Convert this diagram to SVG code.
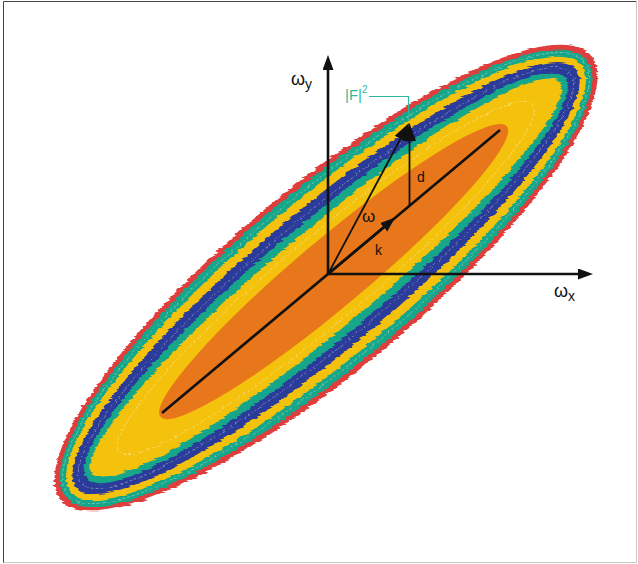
<svg xmlns="http://www.w3.org/2000/svg" width="638" height="564" viewBox="0 0 638 564">
<style>
.ax{stroke:#111;stroke-width:2.6;fill:none}
.thin{stroke:#111;stroke-width:1.8;fill:none}
.lbl{font-family:"Liberation Sans",Arial,sans-serif;fill:#111}
.cl{fill:none;stroke:#fff;stroke-opacity:.5;stroke-width:.7;stroke-dasharray:3 2}
</style>
<defs>
<marker id="ah" markerUnits="userSpaceOnUse" markerWidth="16" markerHeight="12" refX="6" refY="5.5" orient="auto">
<path d="M0,0 L15,5.5 L0,11 z" fill="#111"/>
</marker>
<marker id="ahb" markerUnits="userSpaceOnUse" markerWidth="20" markerHeight="14" refX="8" refY="6.5" orient="auto">
<path d="M0,0 L18,6.5 L0,13 z" fill="#111"/>
</marker>
<filter id="fz" x="-5%" y="-5%" width="110%" height="110%">
<feTurbulence type="fractalNoise" baseFrequency="0.015 0.4" numOctaves="2" seed="7" result="n"/>
<feDisplacementMap in="SourceGraphic" in2="n" scale="5" xChannelSelector="R" yChannelSelector="G"/>
</filter>
</defs>
<rect width="638" height="564" fill="#fff"/>
<g id="frame">
<path d="M3.5,563 V1.5 H636.5" fill="none" stroke="#444" stroke-width="1"/>
<path d="M3.5,562.5 H636.5 V1.5" fill="none" stroke="#c8c8c8" stroke-width="1"/>
</g>
<g id="spectrum">
<g filter="url(#fz)">
<g transform="translate(326 278) rotate(-40)">
<ellipse rx="346" ry="92" fill="#e03c3c"/>
<ellipse rx="340" ry="87" fill="#17a68a"/>
<ellipse rx="333" ry="78" fill="#f4c20d"/>
<ellipse rx="326" ry="69" fill="#2b3a99"/>
<ellipse rx="312" ry="57" fill="#17a68a"/>
<ellipse rx="305" ry="49" fill="#f4c20d"/>
<ellipse class="cl" rx="337" ry="82"/>
<ellipse class="cl" rx="319" ry="62"/>
<ellipse class="cl" rx="270" ry="42"/>
</g>
</g>
<g transform="translate(326 278) rotate(-40)">
<ellipse cx="10" cy="0" rx="226" ry="34" fill="#e8761b"/>
</g>
</g>
<g id="connectors">
<line class="ax" x1="162" y1="413" x2="500" y2="130"/>
<line class="ax" x1="328" y1="274" x2="388.3" y2="223.4" marker-end="url(#ah)"/>
<line class="ax" x1="328" y1="275" x2="328" y2="64" marker-end="url(#ah)"/>
<line class="ax" x1="327" y1="274" x2="584" y2="274" marker-end="url(#ah)"/>
<line class="thin" x1="328" y1="274" x2="404.3" y2="131.8" marker-end="url(#ahb)"/>
<line class="thin" x1="409.5" y1="206" x2="409.5" y2="133" marker-end="url(#ahb)"/>
<path d="M369,96.5 H408.5 V120" fill="none" stroke="#2fb8a0" stroke-width="1.2"/>
</g>
<g id="labels">
<text class="lbl" x="291" y="85" font-size="18">ω<tspan font-size="14" dy="4">y</tspan></text>
<text class="lbl" x="554" y="297" font-size="18">ω<tspan font-size="14" dy="4">x</tspan></text>
<text class="lbl" x="362" y="222" font-size="17">ω</text>
<text class="lbl" x="375" y="255" font-size="14">k</text>
<text class="lbl" x="417" y="182" font-size="14">d</text>
<text class="lbl" x="345" y="100" font-size="15" style="fill:#2fb8a0">|F|<tspan font-size="10" dy="-7">2</tspan></text>
</g>
</svg>
